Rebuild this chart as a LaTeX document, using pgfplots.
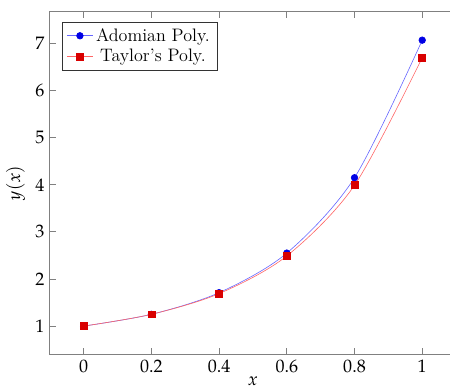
\documentclass[border=0pt]{standalone}
\usepackage{mathpazo}
\usepackage{pgfplots}
\pgfplotsset{compat=1.18}
\begin{document}
\begin{tikzpicture}
\begin{axis}[
  scale only axis, width=270pt, height=228pt,
  xmin=-0.1, xmax=1.1, ymin=0.393, ymax=7.677,
  xtick={0,0.2,0.4,0.6,0.8,1}, ytick={1,2,3,4,5,6,7},
  xlabel={$x$}, ylabel={$y(x)$},
  tick label style={font=\large},
  label style={font=\large},
  xlabel style={yshift=4pt},
  axis line style={gray, semithick},
  every tick/.style={gray, semithick},
  legend pos=north west,
  legend style={draw=black!80, font=\large},
]
\addplot[blue!60, smooth, mark=*, mark size=2.2pt, mark options={fill=blue!90!black, draw=blue!90!black}]
  coordinates {(0,1) (0.2,1.25) (0.4,1.71) (0.6,2.55) (0.8,4.15) (1,7.07)};
\addlegendentry{Adomian Poly.}
\addplot[red!60, smooth, mark=square*, mark size=2.3pt, mark options={fill=red!85!black, draw=red!85!black}]
  coordinates {(0,1) (0.2,1.25) (0.4,1.69) (0.6,2.49) (0.8,3.99) (1,6.7)};
\addlegendentry{Taylor's Poly.}
\coordinate (BL) at (axis cs:-0.247,-0.392);
\coordinate (TR) at (axis cs:1.082,7.923);
\end{axis}
\pgfresetboundingbox
\path[use as bounding box] (BL) rectangle (TR);
\end{tikzpicture}
\end{document}
